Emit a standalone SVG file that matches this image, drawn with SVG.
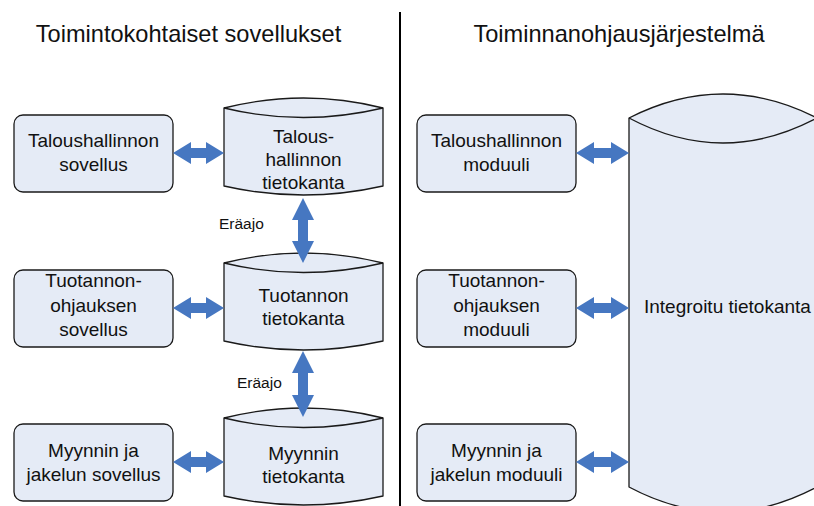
<svg xmlns="http://www.w3.org/2000/svg" width="814" height="506" viewBox="0 0 814 506">
  <style>
    .box { fill: #e5ebf6; stroke: #1a1a1a; stroke-width: 1.3; }
    .db { fill: #e5ebf6; stroke: #1a1a1a; stroke-width: 1.3; stroke-linejoin: round; }
    .rim { fill: none; stroke: #1a1a1a; stroke-width: 1.3; }
    .arrow { fill: #4677c1; stroke: none; }
    .label { font-family: "Liberation Sans", Arial, sans-serif; font-size: 19px; fill: #111; text-anchor: middle; }
    .title { font-family: "Liberation Sans", Arial, sans-serif; font-size: 23.6px; fill: #111; text-anchor: middle; }
    .small { font-family: "Liberation Sans", Arial, sans-serif; font-size: 15.5px; fill: #111; }
  </style>

  <rect width="814" height="506" fill="#ffffff"/>

  <!-- headings and divider -->
  <text class="title" x="188.5" y="42">Toimintokohtaiset sovellukset</text>
  <text class="title" x="619" y="42">Toiminnanohjausjärjestelmä</text>
  <line x1="400" y1="12" x2="400" y2="506" stroke="#000" stroke-width="2"/>

  <!-- left side: applications -->
  <g id="talous-sovellus">
    <rect class="box" x="14" y="115" width="159" height="77" rx="9"/>
    <text class="label" x="93.5" y="147">Taloushallinnon</text>
    <text class="label" x="93.5" y="171">sovellus</text>
  </g>
  <g id="tuotanto-sovellus">
    <rect class="box" x="14" y="270" width="159" height="77" rx="9"/>
    <text class="label" x="93.5" y="287">Tuotannon-</text>
    <text class="label" x="93.5" y="311.5">ohjauksen</text>
    <text class="label" x="93.5" y="336">sovellus</text>
  </g>
  <g id="myynti-sovellus">
    <rect class="box" x="14" y="424" width="159" height="77" rx="9"/>
    <text class="label" x="93.5" y="457">Myynnin ja</text>
    <text class="label" x="93.5" y="481">jakelun sovellus</text>
  </g>

  <!-- left side: databases -->
  <g id="talous-tietokanta">
    <path class="db" d="M224,108 Q303.5,88 383,108 L383,186 Q303.5,204 224,186 Z"/>
    <path class="rim" d="M224,108 Q303.5,127 383,108"/>
    <text class="label" x="303.5" y="143">Talous-</text>
    <text class="label" x="303.5" y="166">hallinnon</text>
    <text class="label" x="303.5" y="189">tietokanta</text>
  </g>
  <g id="tuotanto-tietokanta">
    <path class="db" d="M224,263 Q303.5,243 383,263 L383,341 Q303.5,359 224,341 Z"/>
    <path class="rim" d="M224,263 Q303.5,282 383,263"/>
    <text class="label" x="303.5" y="302">Tuotannon</text>
    <text class="label" x="303.5" y="325">tietokanta</text>
  </g>
  <g id="myynti-tietokanta">
    <path class="db" d="M224,418 Q303.5,398 383,418 L383,496 Q303.5,514 224,496 Z"/>
    <path class="rim" d="M224,418 Q303.5,437 383,418"/>
    <text class="label" x="303.5" y="460">Myynnin</text>
    <text class="label" x="303.5" y="483">tietokanta</text>
  </g>

  <!-- right side: modules -->
  <g id="talous-moduuli">
    <rect class="box" x="417" y="115" width="159" height="77" rx="9"/>
    <text class="label" x="496.5" y="147">Taloushallinnon</text>
    <text class="label" x="496.5" y="171">moduuli</text>
  </g>
  <g id="tuotanto-moduuli">
    <rect class="box" x="417" y="270" width="159" height="77" rx="9"/>
    <text class="label" x="496.5" y="287">Tuotannon-</text>
    <text class="label" x="496.5" y="311.5">ohjauksen</text>
    <text class="label" x="496.5" y="336">moduuli</text>
  </g>
  <g id="myynti-moduuli">
    <rect class="box" x="417" y="424" width="159" height="77" rx="9"/>
    <text class="label" x="496.5" y="457">Myynnin ja</text>
    <text class="label" x="496.5" y="481">jakelun moduuli</text>
  </g>

  <!-- right side: integrated database -->
  <g id="integroitu-tietokanta">
    <path class="db" d="M629,118 Q723,70 817,118 L817,487 Q723,537 629,487 Z"/>
    <path class="rim" d="M629,118 Q723,168 817,118"/>
    <text class="label" x="644" y="313" style="text-anchor:start">Integroitu tietokanta</text>
  </g>

  <!-- connectors: double-headed block arrows -->
  <g id="connectors">
    <polygon class="arrow" points="173,153 191,142 191,148 206,148 206,142 224,153 206,164 206,158 191,158 191,164"/>
    <polygon class="arrow" points="173,308 191,297 191,303 206,303 206,297 224,308 206,319 206,313 191,313 191,319"/>
    <polygon class="arrow" points="173,462 191,451 191,457 206,457 206,451 224,462 206,473 206,467 191,467 191,473"/>

    <polygon class="arrow" points="576,153 594,142 594,148 611,148 611,142 629,153 611,164 611,158 594,158 594,164"/>
    <polygon class="arrow" points="576,308 594,297 594,303 611,303 611,297 629,308 611,319 611,313 594,313 594,319"/>
    <polygon class="arrow" points="576,462 594,451 594,457 611,457 611,451 629,462 611,473 611,467 594,467 594,473"/>

    <polygon class="arrow" points="303,198 314,220 308,220 308,241 314,241 303,263 292,241 298,241 298,220 292,220"/>
    <polygon class="arrow" points="303,351 314,373 308,373 308,395 314,395 303,417 292,395 298,395 298,373 292,373"/>

    <text class="small" x="219" y="229">Eräajo</text>
    <text class="small" x="237" y="388">Eräajo</text>
  </g>
</svg>
